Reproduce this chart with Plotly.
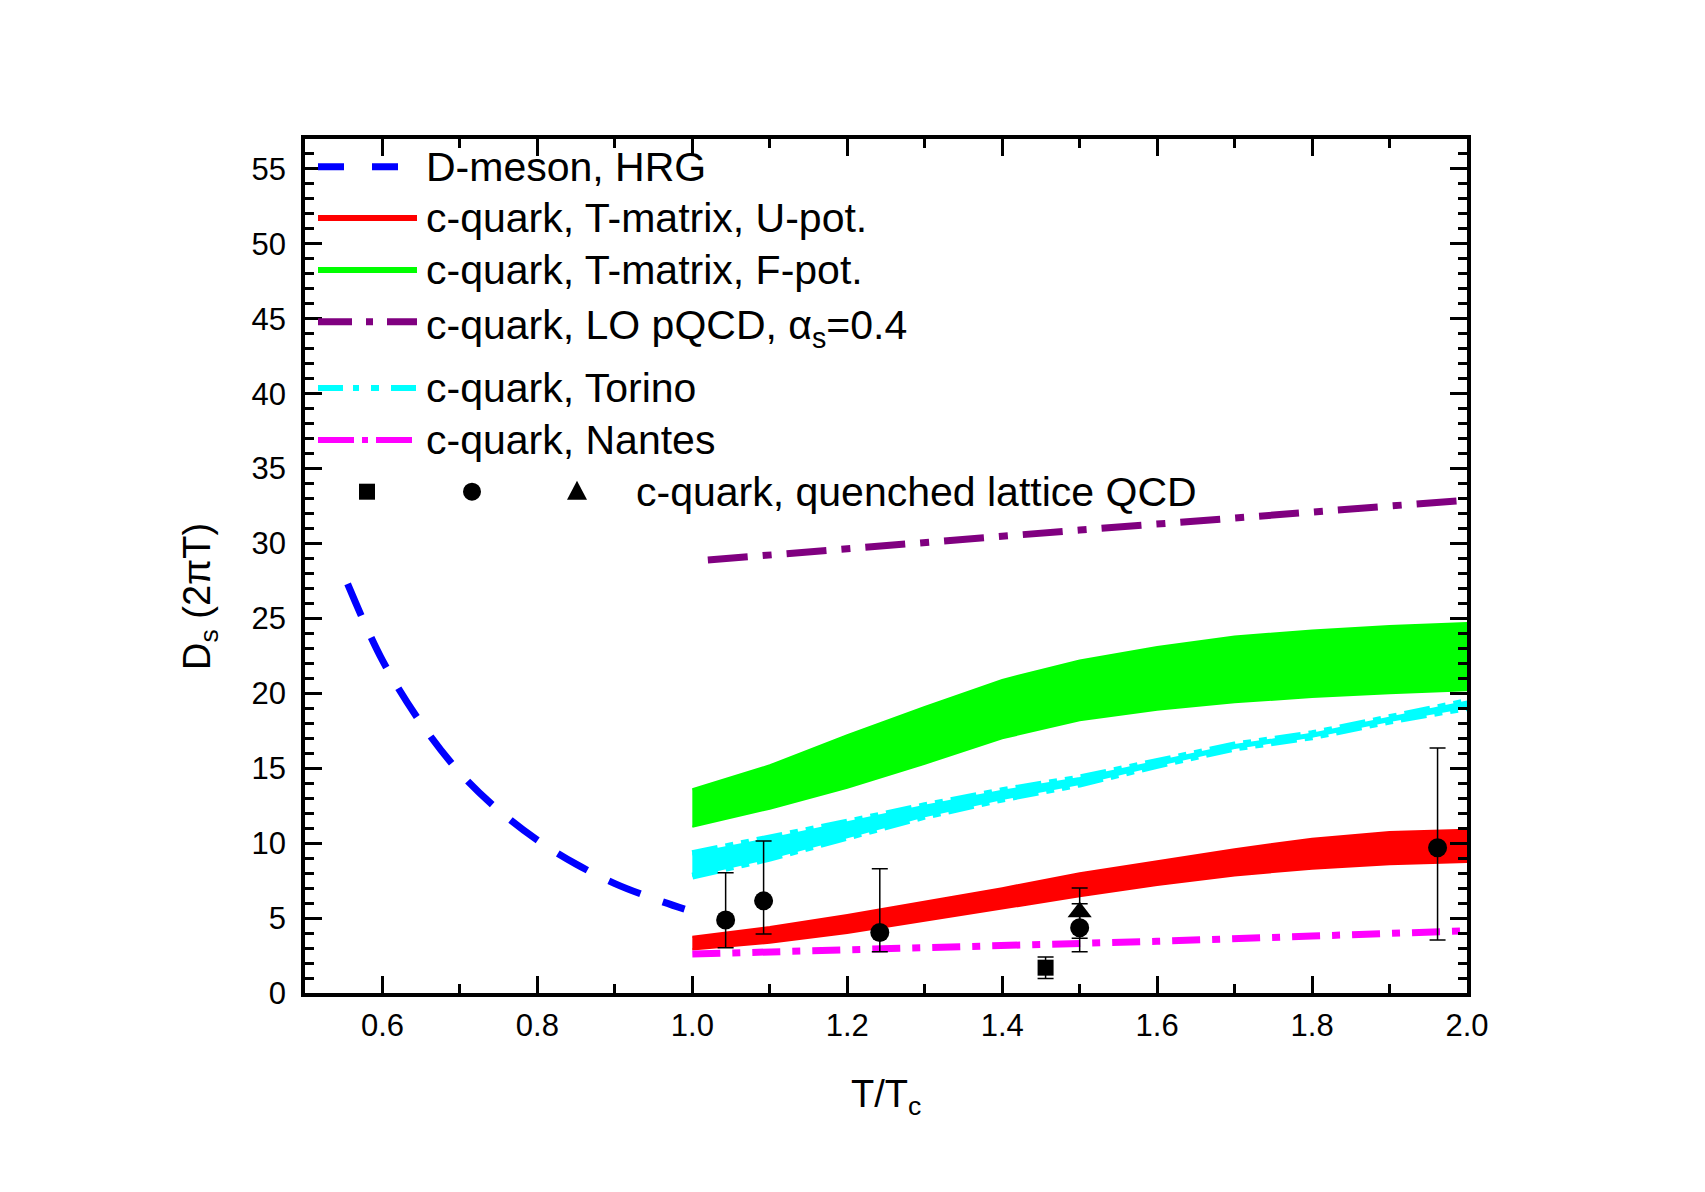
import plotly.graph_objects as go

# ---------------- data ----------------
hrg_x = [0.555, 0.6, 0.65, 0.7, 0.75, 0.8, 0.85, 0.9, 0.95, 0.99]
hrg_y = [27.3, 22.2, 18.0, 14.7, 12.2, 10.2, 8.6, 7.3, 6.3, 5.6]

band_x = [1.0, 1.1, 1.2, 1.3, 1.4, 1.5, 1.6, 1.7, 1.8, 1.9, 2.0]
upot_hi = [3.75, 4.4, 5.2, 6.1, 7.0, 8.0, 8.8, 9.6, 10.3, 10.75, 10.9]
upot_lo = [2.9, 3.35, 4.0, 4.8, 5.65, 6.45, 7.2, 7.85, 8.3, 8.6, 8.75]
fpot_hi = [13.6, 15.2, 17.2, 19.1, 20.9, 22.2, 23.1, 23.8, 24.2, 24.5, 24.7]
fpot_lo = [11.1, 12.3, 13.7, 15.3, 17.0, 18.2, 18.9, 19.4, 19.75, 20.0, 20.2]
torino_hi = [9.3, 10.3, 11.4, 12.5, 13.5, 14.35, 15.45, 16.55, 17.3, 18.35, 19.45]
torino_lo = [7.8, 9.0, 10.4, 11.8, 12.95, 13.95, 15.2, 16.35, 17.1, 18.15, 19.05]

pqcd_x = [1.02, 1.25, 1.5, 1.75, 2.0]
pqcd_y = [28.9, 29.9, 30.9, 31.9, 32.9]

nantes_x = [1.0, 1.2, 1.4, 1.6, 1.8, 2.0]
nantes_y = [2.6, 2.85, 3.1, 3.45, 3.8, 4.15]

lat_sq_x = [1.456]
lat_sq_y = [1.69]
lat_sq_err = [0.72]

lat_ci_x = [1.043, 1.092, 1.242, 1.50, 1.962]
lat_ci_y = [4.87, 6.15, 4.04, 4.35, 9.69]
lat_ci_errp = [3.15, 4.0, 4.26, 1.6, 6.66]
lat_ci_errm = [1.85, 2.22, 1.29, 1.6, 6.16]

lat_tr_x = [1.50]
lat_tr_y = [5.4]
lat_tr_errp = [1.6]
lat_tr_errm = [1.75]

legend_labels = [
    "D-meson, HRG",
    "c-quark, T-matrix, U-pot.",
    "c-quark, T-matrix, F-pot.",
    "c-quark, LO pQCD, α<sub>s</sub>=0.4",
    "c-quark, Torino",
    "c-quark, Nantes",
    "c-quark, quenched lattice QCD",
]

x_ticks = [0.6, 0.8, 1.0, 1.2, 1.4, 1.6, 1.8, 2.0]
y_ticks = [0, 5, 10, 15, 20, 25, 30, 35, 40, 45, 50, 55]

# ---------------- styles ----------------
FONT = "Arial, 'Liberation Sans', sans-serif"
BLUE = "#0000ff"
RED = "#ff0000"
GREEN = "#00ff00"
PURPLE = "#800080"
CYAN = "#00ffff"
MAGENTA = "#ff00ff"

blue_dash = "34px,24px"
purple_dash = "40px,15px,9px,15px"
magenta_dash = "28px,12px,8px,12px"
cyan_dash = "26px,8px,8px,8px,8px,8px"

fig = go.Figure()


def band(xs, hi, lo, color):
    fig.add_trace(go.Scatter(
        x=list(xs) + list(xs)[::-1], y=list(hi) + list(lo)[::-1],
        fill="toself", fillcolor=color, mode="lines",
        line=dict(color=color, width=2), showlegend=False, hoverinfo="skip"))


band(band_x, fpot_hi, fpot_lo, GREEN)
band(band_x, upot_hi, upot_lo, RED)
band(band_x, torino_hi, torino_lo, CYAN)
for edge in (torino_hi, torino_lo):
    fig.add_trace(go.Scatter(x=band_x, y=edge, mode="lines",
                             line=dict(color=CYAN, width=7, dash=cyan_dash),
                             showlegend=False, hoverinfo="skip"))

fig.add_trace(go.Scatter(x=pqcd_x, y=pqcd_y, mode="lines",
                         line=dict(color=PURPLE, width=7, dash=purple_dash),
                         showlegend=False))
fig.add_trace(go.Scatter(x=nantes_x, y=nantes_y, mode="lines",
                         line=dict(color=MAGENTA, width=7, dash=magenta_dash),
                         showlegend=False))
fig.add_trace(go.Scatter(x=hrg_x, y=hrg_y, mode="lines", line_shape="spline",
                         line=dict(color=BLUE, width=7, dash=blue_dash),
                         showlegend=False))

err_style = dict(type="data", color="black", thickness=1.5, width=8)
fig.add_trace(go.Scatter(
    x=lat_ci_x, y=lat_ci_y, mode="markers",
    marker=dict(symbol="circle", size=19, color="black"),
    error_y=dict(array=lat_ci_errp, arrayminus=lat_ci_errm, symmetric=False, **err_style),
    showlegend=False))
fig.add_trace(go.Scatter(
    x=lat_sq_x, y=lat_sq_y, mode="markers",
    marker=dict(symbol="square", size=16, color="black"),
    error_y=dict(array=lat_sq_err, **err_style),
    showlegend=False))
fig.add_trace(go.Scatter(
    x=lat_tr_x, y=lat_tr_y, mode="markers",
    marker=dict(symbol="triangle-up", size=21, color="black"),
    error_y=dict(array=lat_tr_errp, arrayminus=lat_tr_errm, symmetric=False, **err_style),
    showlegend=False))

# ---------------- layout ----------------
W, H = 1705, 1192
ML, MR, MT, MB = 305, 238, 139, 199
PW, PH = W - ML - MR, H - MT - MB


def px(xpix):
    return (xpix - ML) / PW


def py(ypix):
    return (H - MB - ypix) / PH


shapes = []
annotations = []

# manual legend
row_y = [166.7, 218, 270, 321.7, 388, 440, 491.7]
line_styles = [
    (BLUE, 7, "26px,28px"),
    (RED, 6, "solid"),
    (GREEN, 6, "solid"),
    (PURPLE, 7, "34px,14px,7px,14px"),
    (CYAN, 6, "25px,10px,6px,12px,8px,12px"),
    (MAGENTA, 6, "36px,8px,6px,8px"),
]
for (col, w, d), ry in zip(line_styles, row_y):
    shapes.append(dict(type="line", xref="paper", yref="paper",
                       x0=px(318), x1=px(417), y0=py(ry), y1=py(ry),
                       line=dict(color=col, width=w, dash=d)))
for lab, ry in zip(legend_labels[:6], row_y[:6]):
    shift = -6 if "<sub>" in lab else 0
    annotations.append(dict(text=lab, xref="paper", yref="paper",
                            x=px(424), y=py(ry), xanchor="left", yanchor="middle",
                            yshift=shift, showarrow=False,
                            font=dict(family=FONT, size=41, color="black")))
# lattice legend row
ry = row_y[6]
shapes.append(dict(type="rect", xref="paper", yref="paper",
                   x0=px(367 - 8), x1=px(367 + 8), y0=py(ry + 8), y1=py(ry - 8),
                   fillcolor="black", line=dict(width=0)))
shapes.append(dict(type="circle", xref="paper", yref="paper",
                   x0=px(472 - 9), x1=px(472 + 9), y0=py(ry + 9), y1=py(ry - 9),
                   fillcolor="black", line=dict(width=0)))
tx, ty = 577, ry
shapes.append(dict(type="path", xref="paper", yref="paper",
                   path=f"M {px(tx-10)},{py(ty+8)} L {px(tx+10)},{py(ty+8)} L {px(tx)},{py(ty-11)} Z",
                   fillcolor="black", line=dict(width=0)))
annotations.append(dict(text=legend_labels[6], xref="paper", yref="paper",
                        x=px(634), y=py(ry), xanchor="left", yanchor="middle",
                        showarrow=False,
                        font=dict(family=FONT, size=41, color="black")))

# axis titles
annotations.append(dict(text="D<sub>s</sub> (2πT)", xref="paper", yref="paper",
                        x=px(200), y=py(597), textangle=-90,
                        xanchor="center", yanchor="middle", showarrow=False,
                        font=dict(family=FONT, size=38, color="black")))
annotations.append(dict(text="T/T<sub>c</sub>", xref="paper", yref="paper",
                        x=px(886), y=py(1097), xanchor="center", yanchor="middle",
                        showarrow=False,
                        font=dict(family=FONT, size=38, color="black")))

axis_common = dict(showline=True, linewidth=3.5, linecolor="black", mirror="allticks",
                   ticks="inside", ticklen=17, tickwidth=3, tickcolor="black",
                   showgrid=False, zeroline=False,
                   tickfont=dict(family=FONT, size=31, color="black"))

fig.update_layout(
    width=W, height=H,
    margin=dict(l=ML, r=MR, t=MT, b=MB, pad=0),
    paper_bgcolor="white", plot_bgcolor="white",
    showlegend=False,
    xaxis=dict(range=[0.5, 2.0], tickvals=x_ticks,
               ticktext=[f"{v:.1f}" for v in x_ticks],
               ticklabelstandoff=2,
               minor=dict(ticks="inside", ticklen=9, tickwidth=3, tickcolor="black",
                          dtick=0.1, tick0=0.5, showgrid=False),
               **axis_common),
    yaxis=dict(range=[0, 57], tickvals=y_ticks,
               ticktext=[str(v) for v in y_ticks],
               ticklabelstandoff=9,
               minor=dict(ticks="inside", ticklen=9, tickwidth=3, tickcolor="black",
                          dtick=1, tick0=0, showgrid=False),
               **axis_common),
    shapes=shapes,
    annotations=annotations,
)

fig.write_html("out.html")
